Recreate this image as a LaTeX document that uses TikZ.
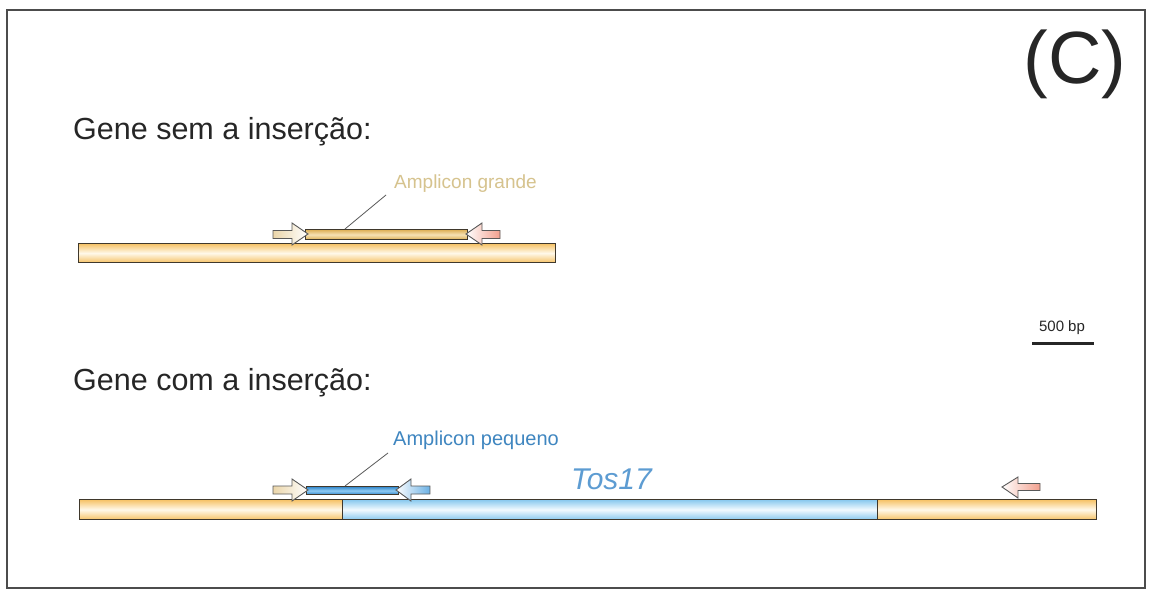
\documentclass[tikz,border=0pt]{standalone}
\usepackage{fontspec}
\setmainfont{Liberation Sans}
\definecolor{geneO}{HTML}{F6C266}
\definecolor{geneOm}{HTML}{FFF9EA}
\definecolor{geneB}{HTML}{88C8EE}
\definecolor{geneBm}{HTML}{F2FAFF}
\definecolor{ampO}{HTML}{DDAF55}
\definecolor{ampOm}{HTML}{F6E2B4}
\definecolor{ampB}{HTML}{3388CC}
\definecolor{ampBm}{HTML}{8ECAF2}
\definecolor{labO}{HTML}{D6C38E}
\definecolor{labB}{HTML}{3F86C0}
\definecolor{tosB}{HTML}{5D9CD2}
\definecolor{pinkT}{HTML}{F2A08E}
\definecolor{creamT}{HTML}{EBD6AA}
\definecolor{blueT}{HTML}{6AB0E4}
\definecolor{edgeC}{HTML}{3F382C}
\definecolor{txt}{HTML}{262626}
\tikzset{
  bar/.style={draw=edgeC, line width=1.3pt, inner sep=0pt, anchor=north west},
  orangebar/.style={bar, top color=geneO, bottom color=geneO, middle color=geneOm},
  bluebar/.style={bar, top color=geneB, bottom color=geneB, middle color=geneBm},
  amporange/.style={bar, top color=ampO, bottom color=ampO, middle color=ampOm},
  ampblue/.style={bar, top color=ampB, bottom color=ampB, middle color=ampBm},
  primer/.style={draw=gray!70!black, line width=0.9pt},
  leader/.style={draw=gray!70!black, line width=0.8pt},
  heading/.style={text=txt, font=\fontsize{30.5}{36}\selectfont, anchor=base west, inner sep=0pt},
}
\begin{document}
\begin{tikzpicture}[x=1pt,y=-1pt]
\useasboundingbox (0,0) rectangle (1152,591);
\fill[white] (0,0) rectangle (1152,591);
\draw[draw=gray!60!black, line width=1.6pt] (7,10) rectangle (1145,588);

\node[text=txt, font=\fontsize{74}{80}\selectfont, inner sep=0pt] (lab) at (1075,64) {(C)};

% --- gene without insertion
\node[heading] (h1) at (73,140) {Gene sem a inserção:};
\node[orangebar, minimum width=477pt, minimum height=19pt] (g1) at (78,243) {};
\node[amporange, minimum width=162pt, minimum height=10pt] (a1) at (305,229) {};
% forward primer
\path[primer, left color=creamT, right color=white]
  (273,230.5) -- (292,230.5) -- (292,223) -- (308,234) -- (292,245) -- (292,238.5) -- (273,238.5) -- cycle;
% reverse primer
\path[primer, left color=white, right color=pinkT]
  (500,230.5) -- (482,230.5) -- (482,223) -- (466,234) -- (482,245) -- (482,238.5) -- (500,238.5) -- cycle;
\node[text=labO, font=\fontsize{19}{22}\selectfont, anchor=west, inner sep=0pt] (l1) at (394,184) {Amplicon grande};
\coordinate (c1) at (386,195);
\draw[leader] (c1) -- (345,229);

% --- scale bar
\node[text=txt, font=\fontsize{15}{18}\selectfont, inner sep=0pt] (sb) at (1062,328) {500 bp};
\coordinate (s0) at (1032,343);
\coordinate (s1) at (1094,343);
\draw[line width=3pt, txt] (s0) -- (s1);

% --- gene with insertion
\node[heading] (h2) at (73,390) {Gene com a inserção:};
\node[orangebar, minimum width=263pt, minimum height=20pt] (g2a) at (79,499) {};
\node[bluebar, minimum width=536pt, minimum height=20pt] (g2b) at (342,499) {};
\node[orangebar, minimum width=219pt, minimum height=20pt] (g2c) at (877,499) {};
\node[ampblue, minimum width=92pt, minimum height=8pt] (a2) at (306,486) {};
\path[primer, left color=creamT, right color=white]
  (273,486) -- (292,486) -- (292,479) -- (308,490) -- (292,501) -- (292,494) -- (273,494) -- cycle;
\path[primer, left color=white, right color=blueT]
  (430,486) -- (411,486) -- (411,479) -- (396,490) -- (411,501) -- (411,494) -- (430,494) -- cycle;
\path[primer, left color=white, right color=pinkT]
  (1040,483.5) -- (1018,483.5) -- (1018,477) -- (1002,487) -- (1018,498) -- (1018,490.5) -- (1040,490.5) -- cycle;
\node[text=labB, font=\fontsize{20}{24}\selectfont, anchor=west, inner sep=0pt] (l2) at (393,440) {Amplicon pequeno};
\coordinate (c2) at (388,453);
\draw[leader] (c2) -- (345,486);
\node[text=tosB, font=\itshape\fontsize{30}{34}\selectfont, anchor=west, inner sep=0pt] (tos) at (571,479) {Tos17};
\end{tikzpicture}
\end{document}
